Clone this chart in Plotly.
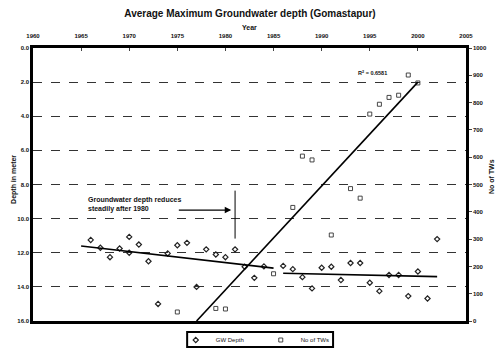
#!/usr/bin/env python3
"""Average maximum groundwater depth at Gomastapur, with number of tube wells."""
import plotly.graph_objects as go

# GW depth (m below ground) per year
gw_years = [1966, 1967, 1968, 1969, 1970, 1970, 1971, 1972, 1973, 1974, 1975, 1976,
            1977, 1978, 1979, 1980, 1981, 1982, 1983, 1984, 1986, 1987, 1988, 1989,
            1990, 1991, 1992, 1993, 1994, 1995, 1996, 1997, 1998, 1999, 2000, 2001, 2002]
gw_depth = [11.25, 11.71, 12.26, 11.75, 11.07, 12.0, 11.52, 12.5, 15.0, 12.04, 11.56, 11.42,
            14.0, 11.8, 12.1, 12.26, 11.8, 12.82, 13.47, 12.8, 12.77, 12.96, 13.43, 14.09,
            12.88, 12.82, 13.6, 12.6, 12.6, 13.76, 14.25, 13.3, 13.3, 14.54, 13.1, 14.68, 11.2]

# number of tube wells
tw_years = [1975, 1979, 1980, 1985, 1987, 1988, 1989, 1991, 1993, 1994, 1995, 1996,
            1997, 1998, 1999, 2000]
tw_count = [33, 46, 44, 173, 416, 604, 590, 315, 485, 450, 758, 794, 819, 827, 901, 872]

# trend lines as drawn on the original
gw_trend1_years = [1965, 1985]
gw_trend1_depth = [11.6, 12.9]
gw_trend2_years = [1986, 2002]
gw_trend2_depth = [13.2, 13.4]
tw_trend_years = [1977, 2000]
tw_trend_count = [0, 875]

FONT = "Liberation Sans"

fig = go.Figure()

fig.add_trace(go.Scatter(
    x=gw_years, y=gw_depth, mode="markers", name="GW Depth",
    marker=dict(symbol="diamond-open", size=4, color="#222", line=dict(width=1.2)),
))
fig.add_trace(go.Scatter(
    x=tw_years, y=tw_count, mode="markers", name="No of TWs", yaxis="y2",
    marker=dict(symbol="square-open", size=4, color="#333", line=dict(width=0.9)),
))
fig.add_trace(go.Scatter(
    x=gw_trend1_years, y=gw_trend1_depth, mode="lines", showlegend=False,
    line=dict(color="black", width=1.6),
))
fig.add_trace(go.Scatter(
    x=gw_trend2_years, y=gw_trend2_depth, mode="lines", showlegend=False,
    line=dict(color="black", width=1.6),
))
fig.add_trace(go.Scatter(
    x=tw_trend_years, y=tw_trend_count, mode="lines", showlegend=False, yaxis="y2",
    line=dict(color="black", width=1.6),
))

# vertical marker line at 1981
fig.add_shape(type="line", x0=1981, x1=1981, y0=8.36, y1=11.17,
              xref="x", yref="y", line=dict(color="black", width=1))

# frame round the legend (plotly's own legend box is too tall here)
fig.add_shape(type="rect", xref="paper", yref="paper",
              x0=0.356, x1=0.693, y0=-0.0952, y1=-0.0403,
              line=dict(color="black", width=2), fillcolor="rgba(0,0,0,0)", layer="above")

fig.add_annotation(
    x=1965.5, y=9.2, xref="x", yref="y", xanchor="left", align="left",
    text="Groundwater depth reduces<br>steadily after 1980", showarrow=False,
    font=dict(family=FONT, size=7, weight="bold", color="#111"),
)
fig.add_annotation(
    x=1980.6, y=9.5, ax=1975.0, ay=9.5, xref="x", yref="y", axref="x", ayref="y",
    text="", showarrow=True, arrowhead=2, arrowsize=1, arrowwidth=1.3, arrowcolor="black",
)
fig.add_annotation(
    x=1995.3, y=910, xref="x", yref="y2", text="R<sup>2</sup> = 0.6581", showarrow=False,
    font=dict(family=FONT, size=5.5, weight="bold", color="#111"),
)

tick_font = dict(family=FONT, size=6, weight="bold", color="#111")
title_font = dict(family=FONT, size=7, weight="bold", color="#111")

# axis titles placed as annotations so they sit where the original has them
fig.add_annotation(x=0.5, y=1.095, xref="paper", yref="paper", text="Year",
                   showarrow=False, font=title_font)
fig.add_annotation(x=-0.058, y=0.52, xref="paper", yref="paper", text="Depth in meter",
                   textangle=-90, showarrow=False, font=title_font)
fig.add_annotation(x=1.072, y=0.53, xref="paper", yref="paper", text="No of TWs",
                   textangle=-90, showarrow=False, font=title_font)

fig.update_layout(
    width=500, height=351,
    margin=dict(l=33, r=34, t=48, b=30, autoexpand=False),
    paper_bgcolor="white", plot_bgcolor="white",
    title=dict(text="Average Maximum Groundwater depth (Gomastapur)", x=0.5, xanchor="center",
               y=1 - 13 / 351, yanchor="middle",
               font=dict(family=FONT, size=10, weight="bold", color="#111")),
    xaxis=dict(
        range=[1960, 2005], side="top", dtick=5, tick0=1960,
        showline=True, linecolor="black", linewidth=2.5, mirror=True,
        ticks="inside", ticklen=3, tickcolor="#444", ticklabelstandoff=5,
        showgrid=False, zeroline=False, tickfont=tick_font,
    ),
    yaxis=dict(
        range=[16, 0], dtick=2, tickformat=".1f",
        showline=True, linecolor="black", linewidth=2.5, mirror=True,
        showgrid=True, gridcolor="#333", griddash="dash", gridwidth=1,
        zeroline=False, tickfont=tick_font, ticks="",
    ),
    yaxis2=dict(
        range=[0, 1000], dtick=100, overlaying="y", side="right",
        showline=True, linecolor="black", linewidth=2.5,
        showgrid=False, zeroline=False, tickfont=tick_font,
        ticks="outside", ticklen=3, tickcolor="#444",
    ),
    legend=dict(
        orientation="h", x=0.526, xanchor="center",
        y=11 / 351, yref="container", yanchor="middle",
        borderwidth=0, bgcolor="rgba(0,0,0,0)",
        font=dict(family=FONT, size=6, color="#111"), itemwidth=30,
        entrywidth=40, entrywidthmode="pixels", tracegroupgap=0,
    ),
    showlegend=True,
)

# the page's default body margin would push the 500x351 figure off the window
fig.write_html("out.html", config={"displayModeBar": False},
               post_script="document.body.style.margin='0';")
